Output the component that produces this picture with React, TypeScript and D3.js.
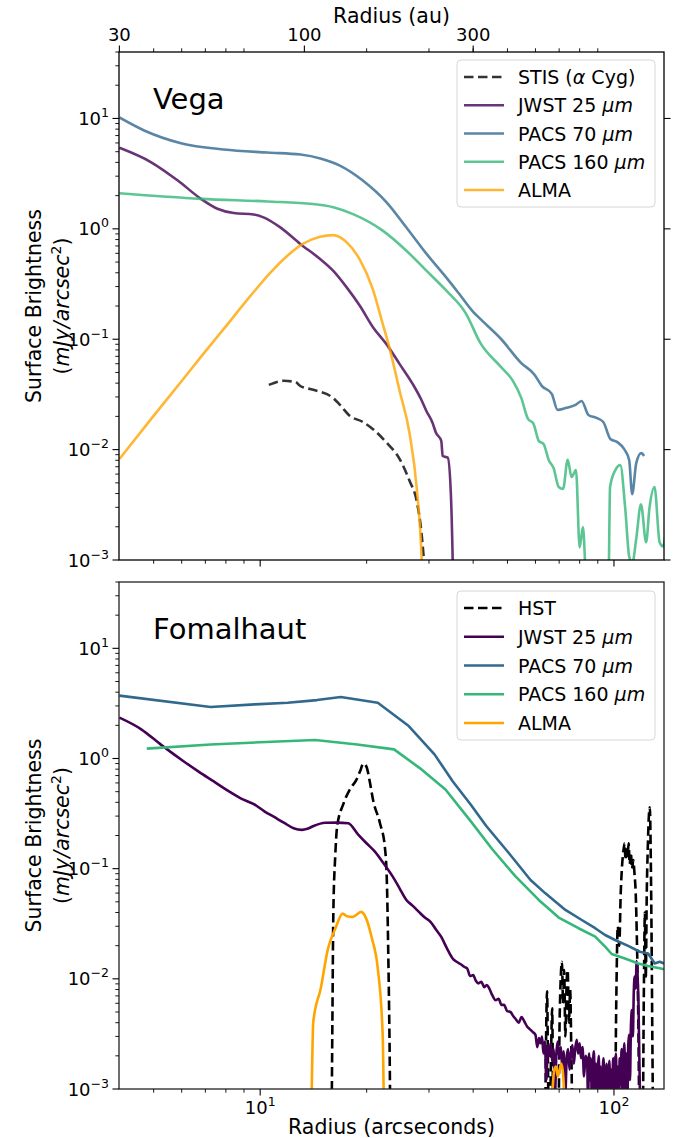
import React from "react";
import * as d3 from "d3";

// ---------------- data (radius in arcsec, surface brightness in mJy/arcsec^2) -------------
// Vega
const vegaStisR = [10.58, 11.65, 12.57, 12.98, 14.12, 16.07, 16.81, 17.94, 19.51, 20.8, 22.8, 24.79, 26.45, 27.7, 28.6, 29.1];
const vegaStisS = [0.0386, 0.042, 0.041, 0.0377, 0.0348, 0.0294, 0.0254, 0.0202, 0.0178, 0.0154, 0.0115, 0.00822, 0.00519, 0.00342, 0.00171, 0.0009];

const vegaJwstR = [4.0, 4.92, 5.85, 6.8, 7.57, 8.42, 9.58, 10.22, 11.4, 12.98, 14.77, 16.07, 17.56, 19.13, 20.86, 22.75, 24.79, 27.0, 28.5, 29.5, 30.7, 31.4, 32.5, 32.8, 33.9, 34.6, 35.0, 35.2];
const vegaJwstS = [5.42, 4.01, 2.74, 1.87, 1.52, 1.39, 1.35, 1.27, 1.03, 0.73, 0.533, 0.418, 0.295, 0.201, 0.128, 0.0903, 0.0595, 0.0392, 0.0286, 0.0224, 0.0175, 0.0142, 0.012, 0.00875, 0.00845, 0.00393, 0.00104, 0.0004];

const vegaPacs70R = [4.0, 4.7, 5.97, 7.89, 10.5, 13.0, 14.8, 16.8, 19.5, 22.8, 25.9, 29.5, 33.6, 36.5, 40.0, 41.6, 47.9, 54.6, 59.7, 62.5, 66.7, 69.3, 73.0, 77.9, 81.0, 84.7, 89.2, 93.3, 97.7, 102.2, 106.9, 110.4, 112.6, 115.6, 119.4, 121.7];
const vegaPacs70S = [10.2, 7.78, 5.97, 5.24, 4.91, 4.71, 4.34, 3.74, 2.74, 1.73, 1.03, 0.596, 0.361, 0.258, 0.177, 0.156, 0.101, 0.0611, 0.0475, 0.0378, 0.032, 0.0229, 0.0238, 0.0254, 0.0276, 0.0206, 0.0194, 0.0178, 0.0125, 0.0117, 0.0101, 0.00805, 0.00395, 0.00755, 0.0093, 0.00875];

const vegaPacs160R = [4.0, 6.8, 10.5, 14.1, 16.1, 18.3, 22.2, 25.9, 29.5, 33.6, 38.2, 41.9, 47.9, 51.8, 54.7, 57.1, 59.2, 61.3, 63.3, 65.4, 67.5, 69.8, 71.8, 74.0, 75.9, 78.1, 80.0, 81.7, 83.9, 96.4, 97.5, 100.9, 104.2, 107.6, 110.4, 112.6, 115.6, 119.2, 123.3, 126.0, 130.2, 134.6, 137.6, 140.0];
const vegaPacs160S = [2.1, 1.87, 1.77, 1.68, 1.57, 1.36, 0.964, 0.634, 0.418, 0.275, 0.17, 0.0927, 0.0562, 0.042, 0.0294, 0.0191, 0.0172, 0.012, 0.0112, 0.00805, 0.00681, 0.00458, 0.0044, 0.0081, 0.00564, 0.00653, 0.0013, 0.00199, 0.0005, 0.0005, 0.00458, 0.00653, 0.00724, 0.00295, 0.00108, 0.00093, 0.00155, 0.0032, 0.00145, 0.00295, 0.00458, 0.00145, 0.00133, 0.00171];

const vegaAlmaR = [4.0, 4.92, 5.97, 6.8, 7.89, 9.4, 10.69, 11.94, 13.23, 14.77, 16.07, 17.6, 19.13, 20.8, 22.2, 23.2, 24.79, 26.45, 27.7, 28.6, 28.9];
const vegaAlmaS = [0.00822, 0.019, 0.041, 0.0692, 0.124, 0.248, 0.401, 0.571, 0.734, 0.849, 0.877, 0.75, 0.526, 0.286, 0.138, 0.0836, 0.034, 0.0139, 0.00449, 0.00104, 0.0004];

// Fomalhaut
const fomHstR = [15.9, 16.0, 16.1, 16.3, 16.5, 17.2, 17.9, 18.7, 19.2, 19.55, 19.98, 20.4, 20.85, 21.8, 22.5, 22.8, 23.0, 23.2, 23.4, 63.8, 64.2, 64.7, 65.2, 65.8, 66.4, 66.9, 67.4, 69.6, 70.2, 70.8, 71.3, 71.8, 72.3, 72.9, 73.5, 74.0, 74.6, 75.2, 75.8, 76.5, 100.5, 101.5, 102.5, 103.5, 104.5, 105.5, 106.5, 107.2, 107.8, 108.5, 109.3, 110.0, 110.8, 111.6, 112.5, 113.4, 114.3, 115.2, 116.2, 117.2, 118.2, 120.5, 121.5, 122.3, 123.0, 123.8, 124.6, 125.5, 126.3, 127.1, 127.8, 128.5, 129.2, 138.5];
const fomHstS = [0.0003, 0.004, 0.04, 0.13, 0.24, 0.39, 0.52, 0.64, 0.78, 0.9, 0.84, 0.62, 0.42, 0.26, 0.16, 0.08, 0.02, 0.003, 0.0003, 0.0003, 0.002, 0.0077, 0.001, 0.0004, 0.002, 0.0054, 0.0004, 0.0004, 0.004, 0.011, 0.0143, 0.006, 0.012, 0.003, 0.0095, 0.012, 0.004, 0.008, 0.002, 0.0004, 0.0004, 0.006, 0.03, 0.02, 0.06, 0.11, 0.15, 0.17, 0.12, 0.16, 0.13, 0.17, 0.11, 0.14, 0.1, 0.12, 0.09, 0.06, 0.02, 0.004, 0.0004, 0.0004, 0.008, 0.04, 0.01, 0.06, 0.15, 0.3, 0.36, 0.12, 0.02, 0.002, 0.0004, 0.0004];

const fomJwstR = [4.0, 4.6, 5.25, 6.1, 6.7, 7.41, 8.1, 8.81, 9.7, 10.3, 10.92, 11.7, 12.43, 13.12, 13.6, 14.15, 15.26, 16.5, 17.74, 18.9, 19.98, 21.1, 22.4, 23.7, 24.8, 25.9, 27.0, 28.0, 29.2, 30.3, 31.4, 32.5, 33.7, 35.0, 36.0, 37.0, 37.8, 38.5, 39.2, 40.0, 40.7, 41.4, 42.2, 43.0, 43.7, 44.4, 45.3, 46.3, 47.2, 48.1, 48.9, 49.9, 51.0, 51.9, 52.8, 53.8, 54.8, 55.8, 56.8, 57.8, 58.9,
  60.0, 60.7, 61.4, 62.0, 62.6, 63.2, 63.8, 64.4, 65.0, 65.6, 66.2, 66.9, 67.5, 68.1, 68.8, 69.4, 70.1, 70.8, 71.4, 72.1, 72.8, 73.5, 74.2, 74.9, 75.6, 76.3, 77.0, 77.7, 78.5, 79.2, 80.0, 80.7, 81.5, 82.3, 83.1,
  84.0, 84.5, 85.0, 85.6, 86.1, 86.7, 87.2, 87.8, 88.3, 88.9, 89.4, 90.0, 90.6, 91.1, 91.7, 92.3, 92.9, 93.5, 94.1, 94.7, 95.3, 95.9, 96.5, 97.1, 97.7, 98.3, 98.9, 99.5, 100.1, 100.7, 101.3, 101.9, 102.5, 103.2, 103.8, 104.4, 105.1, 105.7, 106.4, 107.0, 107.7, 108.3, 109.0, 109.7, 110.3, 111.0, 111.7, 112.4, 113.1, 113.8, 114.5, 115.2, 115.9, 116.6, 117.3, 118.0, 118.7, 119.5, 125.0, 138.5];
const fomJwstS = [2.35, 1.85, 1.33, 0.935, 0.76, 0.616, 0.51, 0.435, 0.378, 0.33, 0.296, 0.26, 0.233, 0.225, 0.23, 0.244, 0.261, 0.262, 0.258, 0.205, 0.17, 0.143, 0.11, 0.0846, 0.066, 0.052, 0.046, 0.041, 0.036, 0.0329, 0.028, 0.024, 0.019, 0.0153, 0.0142, 0.0135, 0.0128, 0.0124, 0.0106, 0.0108, 0.0096, 0.0091, 0.0094, 0.0084, 0.0088, 0.0082, 0.0071, 0.0064, 0.0066, 0.0058, 0.0058, 0.0051, 0.005, 0.0046, 0.0043, 0.004, 0.0045, 0.0041, 0.0037, 0.0035, 0.0033,
  0.0031, 0.0024, 0.0029, 0.0026, 0.003, 0.0021, 0.0027, 0.0012, 0.0025, 0.002, 0.0026, 0.0018, 0.0023, 0.0009, 0.0022, 0.0027, 0.0019, 0.0024, 0.0016, 0.0022, 0.0008, 0.0019, 0.0023, 0.0015, 0.0021, 0.0025, 0.0017, 0.0023, 0.0028, 0.0021, 0.0026, 0.0019, 0.0024, 0.0013, 0.002,
  0.0018, 0.0007, 0.0021, 0.0012, 0.0019, 0.0005, 0.0016, 0.0022, 0.0009, 0.0017, 0.0006, 0.0015, 0.002, 0.0008, 0.0016, 0.0005, 0.0014, 0.0019, 0.0007, 0.0013, 0.0017, 0.0005, 0.0012, 0.0018, 0.0006, 0.0015, 0.001, 0.0019, 0.0005, 0.0013, 0.0021, 0.0008, 0.0016, 0.0005, 0.0019, 0.0011, 0.0023, 0.0006, 0.0017, 0.0026, 0.0009, 0.0021, 0.0005, 0.0024, 0.0031, 0.0012, 0.0038, 0.0052, 0.003, 0.0078, 0.0105, 0.0082, 0.0145, 0.011, 0.006, 0.0018, 0.0006, 0.0003, 0.0004, 0.0004];

const fomPacs70R = [4.0, 7.24, 9.65, 11.96, 14.47, 16.9, 21.5, 26.3, 31.1, 35.0, 39.4, 43.5, 50.5, 58.1, 64.0, 72.9, 81.1, 88.5, 94.4, 100.7, 109.7, 118.3, 124.9, 130.4, 134.7, 138.5];
const fomPacs70S = [3.72, 2.93, 3.1, 3.21, 3.39, 3.61, 3.21, 1.97, 1.09, 0.622, 0.38, 0.245, 0.138, 0.0789, 0.0597, 0.0422, 0.0342, 0.0288, 0.025, 0.0225, 0.0199, 0.0176, 0.017, 0.0138, 0.0143, 0.0138];

const fomPacs160R = [4.78, 7.24, 10.36, 14.3, 18.8, 23.9, 28.2, 33.4, 39.4, 45.3, 52.7, 61.3, 69.8, 79.4, 88.5, 94.4, 98.5, 107.4, 117.1, 124.9, 134.7, 138.5];
const fomPacs160S = [1.23, 1.34, 1.41, 1.47, 1.34, 1.21, 0.822, 0.523, 0.269, 0.15, 0.085, 0.052, 0.036, 0.0288, 0.0242, 0.0196, 0.0168, 0.0153, 0.0138, 0.0131, 0.0125, 0.0122];

const fomAlmaR = [13.9, 14.0, 14.13, 14.83, 15.55, 16.31, 17.11, 17.6, 18.16, 18.7, 19.28, 19.74, 20.7, 21.5, 22.2, 22.5, 66.2, 67.0, 67.8, 68.6, 69.4, 70.2, 71.0, 71.9, 72.7, 73.5];
const fomAlmaS = [0.0003, 0.0012, 0.00407, 0.00817, 0.0188, 0.0286, 0.0391, 0.037, 0.0365, 0.038, 0.0405, 0.0378, 0.0232, 0.0124, 0.00308, 0.0003, 0.0003, 0.0009, 0.0015, 0.0016, 0.0013, 0.0015, 0.0017, 0.0013, 0.0006, 0.0003];

// axis settings
const xDomain = [3.99, 138.5];
const yDomain = [1e-3, 40];
const auTickValues = [30, 100, 300];
const AU_PER_ARCSEC = 7.5;

// ---------------- layout ----------------
const W = 673;
const H = 1138;
const L = 119;
const R = 664;
const FONT = "'DejaVu Sans', sans-serif";

const C_JWST = "#440154";
const C_P70 = "#31688e";
const C_P160 = "#35b779";
const C_ALMA = "#ffa500";

type Series = { key: string; r: number[]; s: number[]; color: string; dashed?: boolean; smooth?: boolean; label: React.ReactNode };

const mu = (t: string) => (
  <>
    {t}
    <tspan fontStyle="italic">μm</tspan>
  </>
);

const vegaSeries: Series[] = [
  { key: "stis", r: vegaStisR, s: vegaStisS, color: "#000", dashed: true, smooth: true, label: (<>STIS (<tspan fontStyle="italic">α</tspan> Cyg)</>) },
  { key: "jwst", r: vegaJwstR, s: vegaJwstS, color: C_JWST, smooth: true, label: mu("JWST 25 ") },
  { key: "p70", r: vegaPacs70R, s: vegaPacs70S, color: C_P70, smooth: true, label: mu("PACS 70 ") },
  { key: "p160", r: vegaPacs160R, s: vegaPacs160S, color: C_P160, smooth: true, label: mu("PACS 160 ") },
  { key: "alma", r: vegaAlmaR, s: vegaAlmaS, color: C_ALMA, smooth: true, label: "ALMA" },
];

const fomSeries: Series[] = [
  { key: "hst", r: fomHstR, s: fomHstS, color: "#000", dashed: true, smooth: true, label: "HST" },
  { key: "jwst", r: fomJwstR, s: fomJwstS, color: C_JWST, smooth: true, label: mu("JWST 25 ") },
  { key: "p70", r: fomPacs70R, s: fomPacs70S, color: C_P70, label: mu("PACS 70 ") },
  { key: "p160", r: fomPacs160R, s: fomPacs160S, color: C_P160, label: mu("PACS 160 ") },
  { key: "alma", r: fomAlmaR, s: fomAlmaS, color: C_ALMA, smooth: true, label: "ALMA" },
];

const x = d3.scaleLog().domain(xDomain).range([L, R]);

const expLabel = (v: number) => {
  const e = Math.round(Math.log10(v));
  return e < 0 ? "\u2212" + String(-e) : String(e);
};

const TICK_FS = 18;
const SUP_FS = 12.5;
const LEG_FS = 19;
const LAB_FS = 20.5;

function Panel(props: {
  idx: number;
  top: number;
  bottom: number;
  series: Series[];
  title: string;
  opacity: number;
  isTop: boolean;
  legendTop: number;
  legendBottom: number;
  spine: string;
}) {
  const { idx, top, bottom, series, title, opacity, isTop, legendTop, legendBottom, spine } = props;
  const y = d3.scaleLog().domain(yDomain).range([bottom, top]);
  const lineLin = d3
    .line<[number, number]>()
    .x((d) => x(d[0]))
    .y((d) => y(Math.max(d[1], 1e-6)));
  const lineSmooth = d3
    .line<[number, number]>()
    .x((d) => x(d[0]))
    .y((d) => y(Math.max(d[1], 1e-6)))
    .curve(d3.curveMonotoneX);
  const yTicks = y.ticks();
  const yMajor = yTicks.filter((v) => Math.abs(Math.log10(v) - Math.round(Math.log10(v))) < 1e-9);
  const yMinor = yTicks.filter((v) => !yMajor.includes(v));
  const xTicks = x.ticks();
  const xMajor = xTicks.filter((v) => Math.abs(Math.log10(v) - Math.round(Math.log10(v))) < 1e-9);
  const xMinor = xTicks.filter((v) => !xMajor.includes(v) && v > xDomain[0] + 0.5);
  const clipId = `clip-${idx}`;
  const legX0 = 457;
  const legX1 = 655;
  const rowStep = (legendBottom - legendTop - 34) / (series.length - 1);
  const centerY = (top + bottom) / 2;
  return (
    <g>
      <defs>
        <clipPath id={clipId}>
          <rect x={L} y={top} width={R - L} height={bottom - top} />
        </clipPath>
      </defs>
      {/* data lines */}
      <g clipPath={`url(#${clipId})`}>
        {series.map((s) => {
          const pts = s.r.map((r, i) => [r, s.s[i]] as [number, number]);
          return (
            <path
              key={s.key}
              d={(s.smooth ? lineSmooth(pts) : lineLin(pts)) || ""}
              fill="none"
              stroke={s.color}
              strokeOpacity={opacity}
              strokeWidth={2.6}
              strokeLinejoin="round"
              strokeDasharray={s.dashed ? "9.5,4.5" : undefined}
            />
          );
        })}
      </g>
      {/* title */}
      <text x={153} y={top + 57} fontSize={29} fontFamily={FONT}>
        {title}
      </text>
      {/* legend */}
      <rect x={legX0} y={legendTop} width={legX1 - legX0} height={legendBottom - legendTop} rx={4} fill="#fff" fillOpacity={0.8} stroke="#d6d6d6" strokeWidth={1} />
      {series.map((s, i) => {
        const cy = legendTop + 17 + i * rowStep;
        return (
          <g key={s.key}>
            <line x1={464} x2={504} y1={cy} y2={cy} stroke={s.color} strokeOpacity={opacity} strokeWidth={2.6} strokeDasharray={s.dashed ? "9.5,4.5" : undefined} />
            <text x={518} y={cy + 7} fontSize={LEG_FS} fontFamily={FONT}>
              {s.label}
            </text>
          </g>
        );
      })}
      {/* spines */}
      <rect x={L} y={top} width={R - L} height={bottom - top} fill="none" stroke={spine} strokeWidth={1.3} />
      {/* y ticks */}
      {yMajor.map((v) => (
        <g key={"ym" + v}>
          <line x1={L - 6.5} x2={L} y1={y(v)} y2={y(v)} stroke="#000" strokeWidth={1.1} />
          <text x={L - 10} y={y(v) + 6.5} textAnchor="end" fontSize={TICK_FS} fontFamily={FONT}>
            10
            <tspan dy={-8} fontSize={SUP_FS}>
              {expLabel(v)}
            </tspan>
          </text>
          {isTop && <line x1={R} x2={R + 6.5} y1={y(v)} y2={y(v)} stroke="#000" strokeWidth={1.1} />}
        </g>
      ))}
      {yMinor.map((v) => (
        <line key={"yn" + v} x1={L - 3.7} x2={L} y1={y(v)} y2={y(v)} stroke="#000" strokeWidth={0.9} />
      ))}
      {/* x ticks bottom */}
      {xMajor.map((v) => (
        <g key={"xm" + v}>
          <line x1={x(v)} x2={x(v)} y1={bottom} y2={bottom + 6.5} stroke="#000" strokeWidth={1.1} />
          {!isTop && (
            <text x={x(v)} y={bottom + 25} textAnchor="middle" fontSize={TICK_FS} fontFamily={FONT}>
              10
              <tspan dy={-8} fontSize={SUP_FS}>
                {expLabel(v)}
              </tspan>
            </text>
          )}
        </g>
      ))}
      {xMinor.map((v) => (
        <line key={"xn" + v} x1={x(v)} x2={x(v)} y1={bottom} y2={bottom + 3.7} stroke="#000" strokeWidth={0.9} />
      ))}
      {/* top au axis */}
      {isTop && (
        <g>
          {auTickValues.map((au) => {
            const px = x(au / AU_PER_ARCSEC);
            return (
              <g key={"au" + au}>
                <line x1={px} x2={px} y1={top} y2={top - 6.5} stroke="#000" strokeWidth={1.1} />
                <text x={px} y={top - 11} textAnchor="middle" fontSize={TICK_FS} fontFamily={FONT}>
                  {au}
                </text>
              </g>
            );
          })}
          {xMinor.map((v) => (
            <line key={"tn" + v} x1={x(v)} x2={x(v)} y1={top} y2={top - 3.7} stroke="#000" strokeWidth={0.9} />
          ))}
          <text x={(L + R) / 2} y={23} textAnchor="middle" fontSize={LAB_FS} fontFamily={FONT}>
            Radius (au)
          </text>
        </g>
      )}
      {!isTop && (
        <text x={(L + R) / 2} y={bottom + 45} textAnchor="middle" fontSize={LAB_FS} fontFamily={FONT}>
          Radius (arcseconds)
        </text>
      )}
      {/* y label */}
      <g transform={`translate(41,${centerY}) rotate(-90)`}>
        <text x={0} y={0} textAnchor="middle" fontSize={LAB_FS} fontFamily={FONT}>
          Surface Brightness
        </text>
      </g>
      <g transform={`translate(69,${centerY}) rotate(-90)`}>
        <text x={0} y={0} textAnchor="middle" fontSize={LAB_FS} fontFamily={FONT}>
          (<tspan fontStyle="italic">mJy/arcsec</tspan>
          <tspan dy={-8} fontSize={14}>2</tspan>
          <tspan dy={8}>)</tspan>
        </text>
      </g>
    </g>
  );
}

export default function App() {
  return (
    <svg width={W} height={H} viewBox={`0 0 ${W} ${H}`} style={{ position: "absolute", left: 0, top: 0, background: "#fff" }} fontFamily={FONT}>
      <rect x={0} y={0} width={W} height={H} fill="#fff" />
      <Panel idx={0} top={52} bottom={560} series={vegaSeries} title="Vega" opacity={0.8} isTop={true} legendTop={60} legendBottom={207} spine="#000" />
      <Panel idx={1} top={582} bottom={1089} series={fomSeries} title="Fomalhaut" opacity={1} isTop={false} legendTop={591} legendBottom={740} spine="#222" />
    </svg>
  );
}
